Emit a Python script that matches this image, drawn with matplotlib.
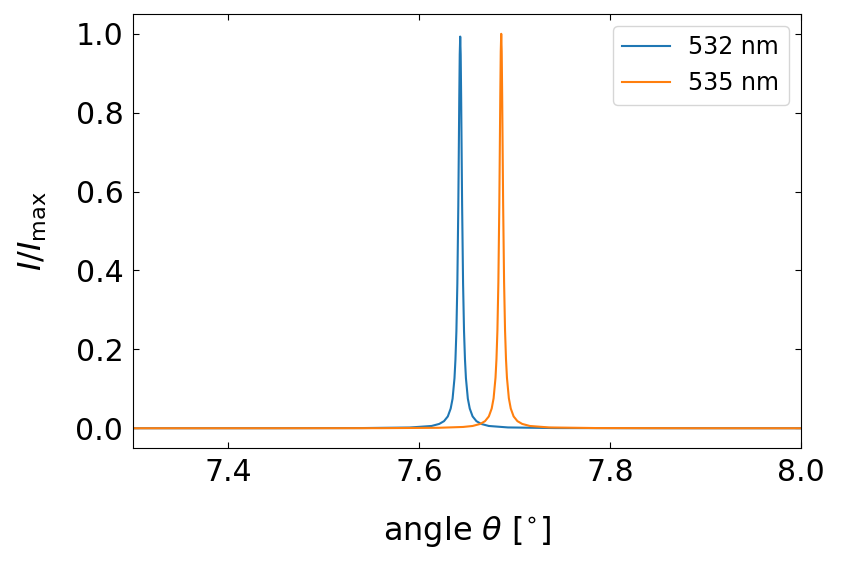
import matplotlib
matplotlib.use("Agg")
import matplotlib.pyplot as plt

# transmission peaks, angle in degrees
angle_532 = [7.30, 7.45, 7.54, 7.59, 7.613, 7.621, 7.626, 7.630, 7.633, 7.635,
             7.637, 7.638, 7.639, 7.640, 7.641, 7.6415, 7.642, 7.6425, 7.643,
             7.6435, 7.644, 7.6445, 7.645, 7.646, 7.647, 7.648, 7.649, 7.651,
             7.653, 7.656, 7.660, 7.665, 7.673, 7.693, 7.743, 7.84, 8.00]
inten_532 = [0.00004, 0.00014, 0.0005, 0.0019, 0.0058, 0.011, 0.018, 0.030, 0.050, 0.075,
             0.127, 0.174, 0.246, 0.367, 0.565, 0.697, 0.835, 0.948, 0.993,
             0.948, 0.835, 0.697, 0.565, 0.367, 0.246, 0.174, 0.127, 0.075,
             0.050, 0.030, 0.018, 0.011, 0.0058, 0.0021, 0.0005, 0.00012, 0.00004]

angle_535 = [7.30, 7.45, 7.56, 7.62, 7.646, 7.656, 7.664, 7.669, 7.673, 7.676,
             7.678, 7.680, 7.681, 7.682, 7.683, 7.684, 7.6845, 7.685, 7.6855, 7.686,
             7.6865, 7.687, 7.6875, 7.688, 7.689, 7.690, 7.691, 7.692, 7.694, 7.696,
             7.699, 7.703, 7.708, 7.716, 7.736, 7.786, 7.886, 8.00]
inten_535 = [0.00004, 0.0001, 0.0003, 0.0012, 0.0033, 0.0058, 0.011, 0.018, 0.030, 0.050,
             0.076, 0.128, 0.175, 0.248, 0.370, 0.569, 0.702, 0.841, 0.955, 1.0,
             0.955, 0.841, 0.702, 0.569, 0.370, 0.248, 0.175, 0.128, 0.076, 0.050,
             0.030, 0.018, 0.011, 0.0058, 0.0021, 0.0005, 0.0001, 0.00005]

labels = ["532 nm", "535 nm"]

fig = plt.figure(figsize=(8.42, 5.64), dpi=100)
ax = fig.add_axes([0.158, 0.2057, 0.793, 0.7693])

ax.plot(angle_532, inten_532, color="#1f77b4", lw=1.5, label=labels[0])
ax.plot(angle_535, inten_535, color="#ff7f0e", lw=1.5, label=labels[1])

ax.set_xlim(7.3, 8.0)
ax.set_ylim(-0.05, 1.05)
ax.set_xticks([7.4, 7.6, 7.8, 8.0])
ax.set_yticks([0.0, 0.2, 0.4, 0.6, 0.8, 1.0])
ax.tick_params(direction="in", top=True, right=True, labelsize=21.5, length=4.5, pad=7)

ax.set_xlabel(r"angle $\theta$ [$^{\circ}$]", fontsize=23, labelpad=20)
ax.set_ylabel(r"$I/I_{\rm max}$", fontsize=23, labelpad=19)

ax.legend(loc="upper right", fontsize=17)

fig.savefig("out.png", dpi=100)
